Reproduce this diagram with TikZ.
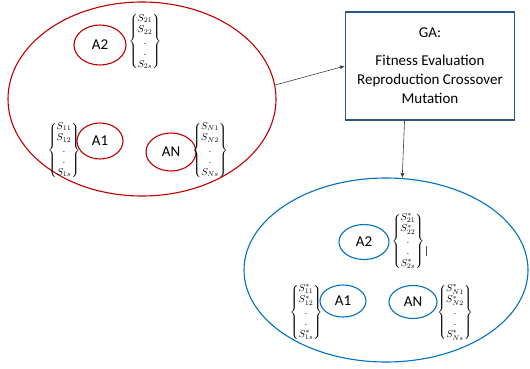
\documentclass[tikz,border=0pt]{standalone}
\usepackage{fontspec}
\setmainfont{Carlito}
\usepackage{amsmath}
\usetikzlibrary{shapes.geometric,arrows.meta,positioning}

\definecolor{popred}{RGB}{192,0,0}
\definecolor{popblue}{RGB}{0,112,192}
\definecolor{gablue}{RGB}{47,82,143}

\begin{document}
\begin{tikzpicture}[x=1pt, y=-1pt,
    pop/.style={draw, ellipse, line width=1.1pt, inner sep=0pt},
    agent/.style={draw, ellipse, line width=1.1pt, inner sep=0pt, minimum width=50pt, minimum height=36pt, font=\fontsize{15}{17}\selectfont},
    svec/.style={inner sep=0pt, font=\fontsize{10}{11.5}\selectfont},
    flow/.style={-{Latex[length=5pt,width=4pt]}, draw=black!75, line width=0.6pt}]
    	\useasboundingbox (0,0) rectangle (530,369);
    	
    	% old population
    	\node[pop, draw=popred, minimum width=268pt, minimum height=194pt] (oldpop) at (142,99) {};
    	\node[agent, draw=popred, minimum width=52pt, minimum height=40pt] (a2) at (100,45) {A2};
    	\node[agent, draw=popred, minimum width=46pt] (a1) at (100,141) {A1};
    	\node[agent, draw=popred, minimum height=38pt] (an) at (171,152) {AN};
    	\node[svec] (s2) at (145,42) {$\left\{\begin{matrix} S_{21}\\ S_{22}\\ .\\ .\\ S_{2s}\end{matrix}\right\}$};
    	\node[svec] (s1) at (64,150) {$\left\{\begin{matrix} S_{11}\\ S_{12}\\ .\\ .\\ S_{1s}\end{matrix}\right\}$};
    	\node[svec] (sn) at (210,150) {$\left\{\begin{matrix} S_{N1}\\ S_{N2}\\ .\\ .\\ S_{Ns}\end{matrix}\right\}$};
    	
    	% GA box
    	\node[draw=gablue, line width=1.1pt, minimum width=169pt, minimum height=108pt, align=center, font=\fontsize{15}{19}\selectfont] (ga) at (430,66) {GA:\\[9pt] Fitness Evaluation\\ Reproduction Crossover\\ Mutation};
    	
    	% new population
    	\node[pop, draw=popblue, minimum width=284pt, minimum height=184pt] (newpop) at (386,270) {};
    	\node[agent, draw=popblue, minimum height=35pt] (b2) at (364,242) {A2};
    	\node[agent, draw=popblue, minimum width=46pt, minimum height=32pt] (b1) at (343,301) {A1};
    	\node[agent, draw=popblue, minimum width=48pt, minimum height=33pt] (bn) at (413,302) {AN};
    	\node[svec] (t2) at (408,241) {$\left\{\begin{matrix} S^{*}_{21}\\ S^{*}_{22}\\ .\\ .\\ S^{*}_{2s}\end{matrix}\right\}$};
    	\node[svec] (t1) at (306,312) {$\left\{\begin{matrix} S^{*}_{11}\\ S^{*}_{12}\\ .\\ .\\ S^{*}_{1s}\end{matrix}\right\}$};
    	\node[svec] (tn) at (455,312) {$\left\{\begin{matrix} S^{*}_{N1}\\ S^{*}_{N2}\\ .\\ .\\ S^{*}_{Ns}\end{matrix}\right\}$};
    	\draw[black!70, line width=0.5pt] ([xshift=2pt,yshift=-5pt]t2.east) -- ++(0,10);
    	
    	\draw[flow] (oldpop.6) -- (ga.west);
    	\draw[flow] (ga.245) -- (newpop.80);
\end{tikzpicture}
\end{document}
